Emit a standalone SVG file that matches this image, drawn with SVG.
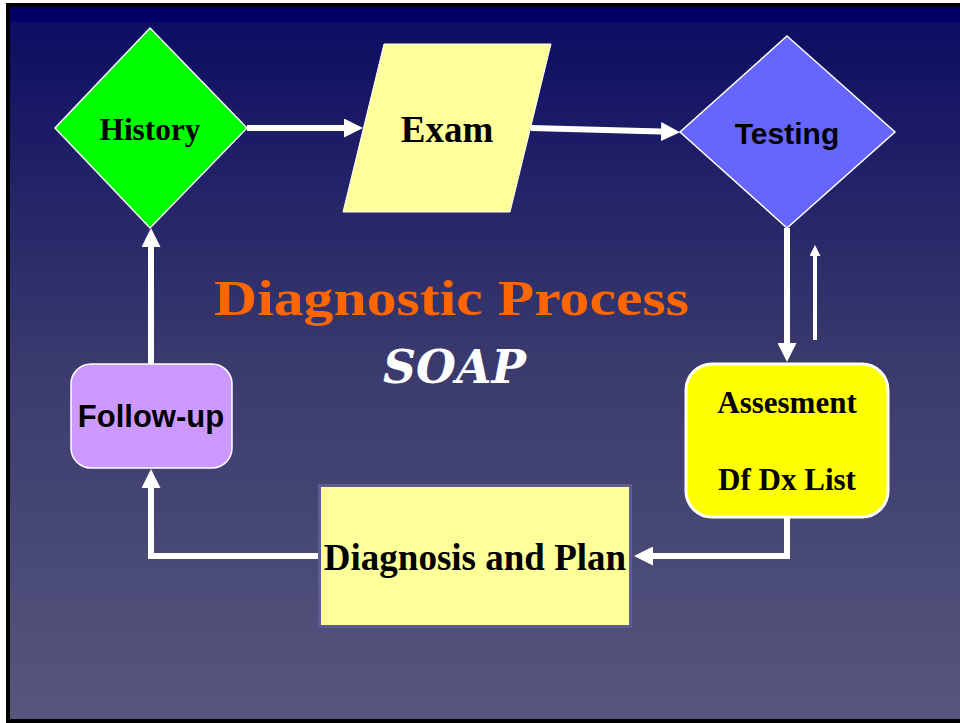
<svg xmlns="http://www.w3.org/2000/svg" width="960" height="723" viewBox="0 0 960 723">
  <defs>
    <linearGradient id="bg" x1="0" y1="0" x2="0" y2="1">
      <stop offset="0" stop-color="#0b0b62"/>
      <stop offset="0.5" stop-color="#3a3a6e"/>
      <stop offset="1" stop-color="#56567d"/>
    </linearGradient>
    <marker id="ah" viewBox="0 0 19 19" refX="0" refY="9.5" markerWidth="19" markerHeight="19" markerUnits="userSpaceOnUse" orient="auto">
      <path d="M0,0 L19,9.5 L0,19 z" fill="#ffffff"/>
    </marker>
    <marker id="ahs" viewBox="0 0 11 11" refX="0" refY="5.5" markerWidth="11" markerHeight="11" markerUnits="userSpaceOnUse" orient="auto">
      <path d="M0,0 L11,5.5 L0,11 z" fill="#ffffff"/>
    </marker>
  </defs>
  <style>
    .serif { font-family: "Liberation Serif", "Times New Roman", serif; font-weight: bold; fill: #000000; text-anchor: middle; }
    .sans { font-family: "Liberation Sans", Arial, sans-serif; font-weight: bold; fill: #000000; text-anchor: middle; }
    .conn { fill: none; stroke: #ffffff; stroke-width: 6; stroke-linejoin: miter; }
  </style>

  <rect x="0" y="0" width="960" height="723" fill="#ffffff"/>
  <rect x="6" y="3" width="954" height="720" fill="#000000"/>
  <rect x="10" y="7" width="950" height="712" fill="url(#bg)"/>
  <rect x="10" y="7" width="950" height="15" fill="#000066"/>

  <g id="connectors">
    <line class="conn" x1="247" y1="128" x2="344" y2="128" marker-end="url(#ah)"/>
    <line class="conn" x1="531" y1="128" x2="661" y2="131.6" marker-end="url(#ah)"/>
    <line class="conn" x1="787" y1="228" x2="787" y2="343" marker-end="url(#ah)"/>
    <line class="conn" style="stroke-width:4" x1="815" y1="340" x2="815" y2="256" marker-end="url(#ahs)"/>
    <polyline class="conn" points="787,517 787,556 653,556" marker-end="url(#ah)"/>
    <polyline class="conn" points="318,556 151,556 151,488" marker-end="url(#ah)"/>
    <line class="conn" x1="151" y1="364" x2="151" y2="247" marker-end="url(#ah)"/>
  </g>

  <g id="history">
    <polygon points="150,28 247,128 150,228 55,128" fill="#00ff00" stroke="#ffffff" stroke-width="1.5"/>
    <text class="serif" x="150" y="140" font-size="32" textLength="101" lengthAdjust="spacingAndGlyphs">History</text>
  </g>

  <g id="exam">
    <polygon points="384,44 551,44 510,212 343,212" fill="#ffff99" stroke="#ffffff" stroke-width="1"/>
    <text class="serif" x="447" y="142" font-size="37">Exam</text>
  </g>

  <g id="testing">
    <polygon points="787,36 895,132 787,228 680,132" fill="#6666ff" stroke="#ffffff" stroke-width="1.5"/>
    <text class="sans" x="787" y="144" font-size="30">Testing</text>
  </g>

  <g id="assesment">
    <rect x="686" y="364" width="202" height="153" rx="26" ry="26" fill="#ffff00" stroke="#ffffff" stroke-width="3"/>
    <text class="serif" x="787" y="413" font-size="31">Assesment</text>
    <text class="serif" x="787" y="490" font-size="31">Df Dx List</text>
  </g>

  <g id="diagnosis">
    <rect x="319.5" y="485.5" width="311" height="141" fill="#ffff99" stroke="#5c5c8e" stroke-width="3"/>
    <text class="serif" x="475" y="570" font-size="37">Diagnosis and Plan</text>
  </g>

  <g id="followup">
    <rect x="71" y="364" width="161" height="104" rx="20" ry="20" fill="#cc99ff" stroke="#ffffff" stroke-width="1.5"/>
    <text class="sans" x="151" y="427" font-size="31">Follow-up</text>
  </g>

  <g id="title">
    <text x="451.5" y="315" font-family="'Liberation Serif', 'Times New Roman', serif" font-weight="bold" font-size="51" fill="#ff6600" text-anchor="middle" textLength="475" lengthAdjust="spacingAndGlyphs">Diagnostic Process</text>
    <text x="454.5" y="383" font-family="'DejaVu Serif', 'Liberation Serif', serif" font-weight="bold" font-style="italic" font-size="46" fill="#ffffff" text-anchor="middle" textLength="143" lengthAdjust="spacingAndGlyphs">SOAP</text>
  </g>
</svg>
